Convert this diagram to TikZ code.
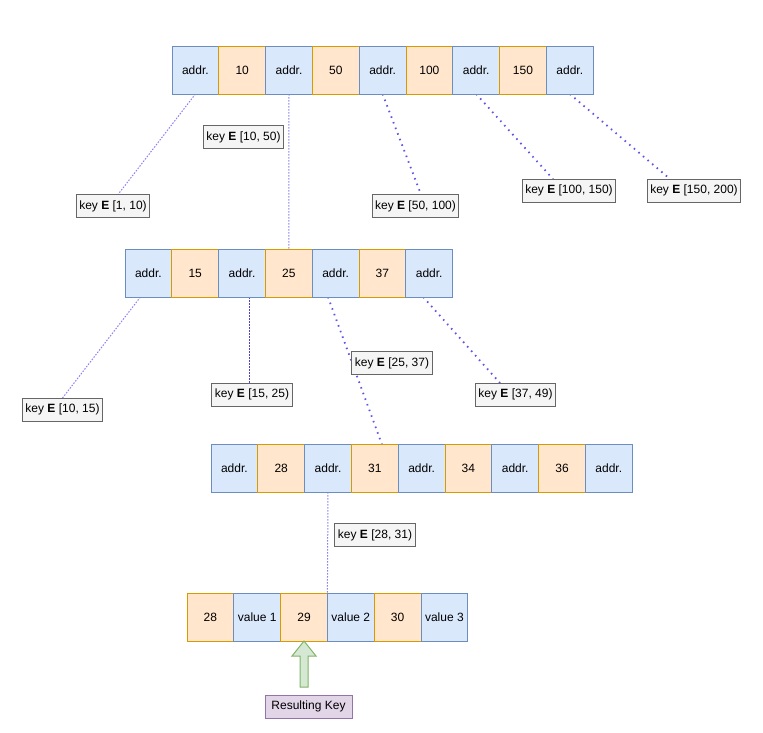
\documentclass[tikz,border=0pt]{standalone}
\usepackage{fontspec}
\setmainfont{Liberation Sans}
\usetikzlibrary{calc, backgrounds}
\definecolor{cblue}{HTML}{DAE8FC}
\definecolor{cblueline}{HTML}{6C8EBF}
\definecolor{corange}{HTML}{FFE6CC}
\definecolor{corangeline}{HTML}{D79B00}
\definecolor{cgrey}{HTML}{F5F5F5}
\definecolor{cgreyline}{HTML}{666666}
\definecolor{cgreen}{HTML}{D5E8D4}
\definecolor{cgreenline}{HTML}{82B366}
\definecolor{cpurple}{HTML}{E1D5E7}
\definecolor{cpurpleline}{HTML}{9673A6}
\definecolor{clink}{HTML}{5F52E8}
\definecolor{clinklight}{HTML}{8A80F2}
\definecolor{clinkdark}{HTML}{5040D8}
\tikzset{
  every picture/.style={x=1pt, y=-1pt, font=\fontsize{12}{14}\selectfont, line width=1pt},
  cell/.style={draw=#1line, fill=#1, minimum width=46.8pt, minimum height=48pt, inner sep=0pt, outer sep=0pt},
  addr/.style={cell=cblue},
  keycell/.style={cell=corange},
  rangebox/.style={draw=cgreyline, fill=cgrey, minimum height=23pt, inner xsep=3pt, inner ysep=0pt, outer sep=0pt},
  result/.style={draw=cpurpleline, fill=cpurple, minimum width=87pt, minimum height=23pt, inner sep=0pt},
  thinlink/.style={draw=clinklight, line width=1pt, dash pattern=on 1.5pt off 1.5pt},
  dotlink/.style={draw=clink, line width=1.8pt, dash pattern=on 1.5pt off 4.5pt},
  bigarrow/.style={draw=cgreenline, fill=cgreen, line width=1pt, line join=miter},
}

\begin{document}
\begin{tikzpicture}
  \useasboundingbox (0,0) rectangle (763,732);
  % root
  \node[addr]    (t1) at (195.4,70) {addr.};
  \node[keycell] (t2) at (242.2,70) {10};
  \node[addr]    (t3) at (289.0,70) {addr.};
  \node[keycell] (t4) at (335.8,70) {50};
  \node[addr]    (t5) at (382.6,70) {addr.};
  \node[keycell] (t6) at (429.4,70) {100};
  \node[addr]    (t7) at (476.2,70) {addr.};
  \node[keycell] (t8) at (523.0,70) {150};
  \node[addr]    (t9) at (569.8,70) {addr.};
  % second level
  \node[addr]    (m1) at (148.4,273) {addr.};
  \node[keycell] (m2) at (195.2,273) {15};
  \node[addr]    (m3) at (242.0,273) {addr.};
  \node[keycell] (m4) at (288.8,273) {25};
  \node[addr]    (m5) at (335.6,273) {addr.};
  \node[keycell] (m6) at (382.4,273) {37};
  \node[addr]    (m7) at (429.2,273) {addr.};
  % third level
  \node[addr]    (b1) at (234.4,468) {addr.};
  \node[keycell] (b2) at (281.2,468) {28};
  \node[addr]    (b3) at (328.0,468) {addr.};
  \node[keycell] (b4) at (374.8,468) {31};
  \node[addr]    (b5) at (421.6,468) {addr.};
  \node[keycell] (b6) at (468.4,468) {34};
  \node[addr]    (b7) at (515.2,468) {addr.};
  \node[keycell] (b8) at (562.0,468) {36};
  \node[addr]    (b9) at (608.8,468) {addr.};
  % leaf
  \node[keycell] (l1) at (210.4,617) {28};
  \node[addr]    (l2) at (257.2,617) {value 1};
  \node[keycell] (l3) at (304.0,617) {29};
  \node[addr]    (l4) at (350.8,617) {value 2};
  \node[keycell] (l5) at (397.6,617) {30};
  \node[addr]    (l6) at (444.4,617) {value 3};
  % key ranges
  \node[rangebox] (r1)  at (113,206)   {key \textbf{E} [1, 10)};
  \node[rangebox] (r2)  at (243.5,137) {key \textbf{E} [10, 50)};
  \node[rangebox] (r3)  at (415.5,206) {key \textbf{E} [50, 100)};
  \node[rangebox] (r4)  at (569,190.5) {key \textbf{E} [100, 150)};
  \node[rangebox] (r5)  at (694,190.5) {key \textbf{E} [150, 200)};
  \node[rangebox] (r6)  at (62.5,409.5) {key \textbf{E} [10, 15)};
  \node[rangebox] (r7)  at (252,394.5) {key \textbf{E} [15, 25)};
  \node[rangebox] (r8)  at (392,363)   {key \textbf{E} [25, 37)};
  \node[rangebox] (r9)  at (515.5,394.5) {key \textbf{E} [37, 49)};
  \node[rangebox] (r10) at (375,535)   {key \textbf{E} [28, 31)};
  \node[result] (res) at (308.5,706.5) {Resulting Key};
  % links, behind the boxes
  \begin{scope}[on background layer]
    \fill[white] (0,0) rectangle (763,732);
    \draw[thinlink] (t1.south) -- ([xshift=5pt]r1.north);
    \draw[thinlink] (t3.south) -- (m4.north);
    \draw[dotlink]  (t5.south) -- ([xshift=5.5pt]r3.north);
    \draw[dotlink]  (t7.south) -- ([xshift=-16pt]r4.north);
    \draw[dotlink]  (t9.south) -- ([xshift=-24pt]r5.north);
    \draw[thinlink] ([xshift=-8pt]m1.south) -- (r6.north);
    \draw[thinlink, draw=clinkdark] ([xshift=7pt]m3.south) -- ([xshift=-3pt]r7.north);
    \draw[dotlink]  ([xshift=-7.6pt]m5.south) -- ([xshift=7pt]b4.north);
    \draw[dotlink]  ([xshift=-6pt]m7.south) -- ([xshift=-15.5pt]r9.north);
    \draw[thinlink] (b3.south) -- (l3.north east);
  \end{scope}
  \draw[bigarrow] (l3.south) -- ++(12,15) -- ++(-8,0) -- ++(0,31) -- ++(-8,0) -- ++(0,-31) -- ++(-8,0) -- cycle;
\end{tikzpicture}
\end{document}
